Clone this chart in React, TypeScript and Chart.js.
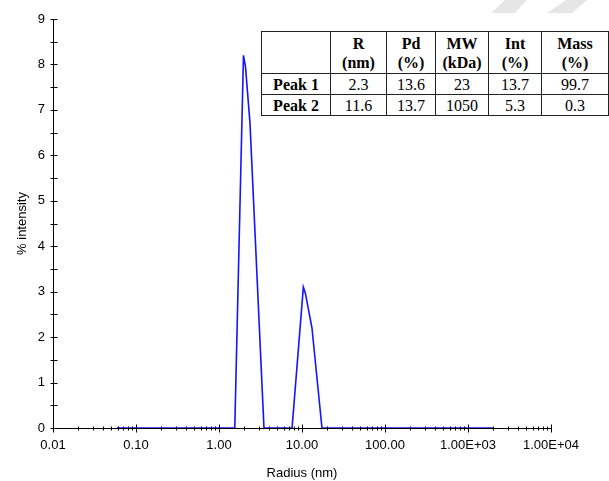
import React, { useEffect, useRef } from "react";
import { Chart, registerables } from "chart.js";

Chart.register(...registerables);

// ---- data ----
const RADIUS_NM = [0.0585, 1.549, 1.972, 2.085, 2.36, 3.483, 7.59, 10.38, 11.03, 13.19, 17.41, 2018];
const INTENSITY = [0, 0, 8.2, 7.95, 6.72, 0, 0, 3.1, 2.95, 2.2, 0, 0];

const X_MAJOR = [0.01, 0.1, 1, 10, 100, 1000, 10000];
const X_LABELS = ["0.01", "0.10", "1.00", "10.00", "100.00", "1.00E+03", "1.00E+04"];
const Y_MIN = 0;
const Y_MAX = 9;
const Y_STEP = 0.5;

const X_TITLE = "Radius (nm)";
const Y_TITLE = "% intensity";

const TABLE_HEAD_TOP = ["", "R", "Pd", "MW", "Int", "Mass"];
const TABLE_HEAD_BOTTOM = ["", "(nm)", "(%)", "(kDa)", "(%)", "(%)"];
const PEAK_NAMES = ["Peak 1", "Peak 2"];
const PEAK_R = ["2.3", "11.6"];
const PEAK_PD = ["13.6", "13.7"];
const PEAK_MW = ["23", "1050"];
const PEAK_INT = ["13.7", "5.3"];
const PEAK_MASS = ["99.7", "0.3"];

const COL_WIDTHS = [69, 56, 49, 53, 53, 67];

const crossTicks = {
  id: "crossTicks",
  afterDatasetsDraw(chart: any) {
    const { ctx, scales, chartArea } = chart;
    const x = scales.x;
    const y = scales.y;
    ctx.save();
    ctx.strokeStyle = "#000";
    ctx.lineWidth = 1;
    const ay = Math.round(chartArea.bottom) + 0.5;
    for (const t of x.ticks) {
      const px = Math.round(x.getPixelForValue(t.value)) + 0.5;
      const major = X_MAJOR.some((m) => Math.abs(m - t.value) / m < 1e-9);
      const len = major ? 4 : 2;
      ctx.beginPath();
      ctx.moveTo(px, ay - len);
      ctx.lineTo(px, ay + len);
      ctx.stroke();
    }
    const ax = Math.round(chartArea.left) + 0.5;
    for (const t of y.ticks) {
      const py = Math.round(y.getPixelForValue(t.value)) + 0.5;
      ctx.beginPath();
      ctx.moveTo(ax - 3, py);
      ctx.lineTo(ax + 4, py);
      ctx.stroke();
    }
    ctx.restore();
  },
};

function buildXTicks() {
  const vals: number[] = [];
  for (let i = 0; i < X_MAJOR.length - 1; i++) {
    for (let k = 1; k <= 9; k++) vals.push(X_MAJOR[i] * k);
  }
  vals.push(X_MAJOR[X_MAJOR.length - 1]);
  return vals;
}

const cellBase: React.CSSProperties = {
  border: "1px solid #222",
  padding: 0,
  textAlign: "center",
  verticalAlign: "middle",
};

export default function App() {
  const canvasRef = useRef<HTMLCanvasElement | null>(null);

  useEffect(() => {
    const canvas = canvasRef.current;
    if (!canvas) return;
    const points = RADIUS_NM.map((r, i) => ({ x: r, y: INTENSITY[i] }));
    const font = { family: "'Liberation Sans', Arial, sans-serif", size: 13 };
    const chart = new Chart(canvas, {
      type: "line",
      data: {
        datasets: [
          {
            data: points,
            borderColor: "#1414ff",
            borderWidth: 1.6,
            pointRadius: 0,
            tension: 0,
            fill: false,
          },
        ],
      },
      options: {
        animation: false,
        responsive: false,
        devicePixelRatio: 1,
        layout: { padding: { left: 0, right: 58, top: 19, bottom: 0 } },
        plugins: { legend: { display: false }, tooltip: { enabled: false } },
        scales: {
          x: {
            type: "logarithmic",
            min: X_MAJOR[0],
            max: X_MAJOR[X_MAJOR.length - 1],
            grid: { display: false, drawTicks: false },
            border: { display: true, color: "#000", width: 1 },
            afterBuildTicks: (scale: any) => {
              scale.ticks = buildXTicks().map((v) => ({ value: v }));
            },
            afterFit: (scale: any) => {
              scale.height = 53;
            },
            ticks: {
              autoSkip: false,
              maxRotation: 0,
              minRotation: 0,
              padding: 10,
              color: "#000",
              font,
              callback: (value: any) => {
                const v = Number(value);
                const i = X_MAJOR.findIndex((m) => Math.abs(m - v) / m < 1e-9);
                return i >= 0 ? X_LABELS[i] : "";
              },
            },
            title: {
              display: true,
              text: X_TITLE,
              color: "#000",
              font,
              padding: { top: 0, bottom: 0 },
            },
          },
          y: {
            type: "linear",
            min: Y_MIN,
            max: Y_MAX,
            grid: { display: false, drawTicks: false },
            border: { display: true, color: "#000", width: 1 },
            afterFit: (scale: any) => {
              scale.width = 53;
            },
            ticks: {
              stepSize: Y_STEP,
              autoSkip: false,
              padding: 8,
              color: "#000",
              font,
              callback: (value: any) => (Number.isInteger(Number(value)) ? String(value) : ""),
            },
            title: {
              display: true,
              text: Y_TITLE,
              color: "#000",
              font,
              padding: { top: 15, bottom: 0 },
            },
          },
        },
      },
      plugins: [crossTicks],
    } as any);
    return () => chart.destroy();
  }, []);

  const rows = PEAK_NAMES.map((name, i) => [name, PEAK_R[i], PEAK_PD[i], PEAK_MW[i], PEAK_INT[i], PEAK_MASS[i]]);

  return (
    <div style={{ position: "absolute", left: 0, top: 0, width: 609, height: 481, background: "#fff", overflow: "hidden" }}>
      <canvas ref={canvasRef} width={609} height={481} style={{ position: "absolute", left: 0, top: 0, width: 609, height: 481 }} />
      <div style={{ position: "absolute", left: 0, top: 0, width: 609, height: 14, pointerEvents: "none" }}>
        <div style={{ position: "absolute", left: 0, top: 0, width: 609, height: 14, background: "#e6e6e6", clipPath: "polygon(505px 0px, 527px 0px, 515px 13px, 491px 13px)" }} />
        <div style={{ position: "absolute", left: 0, top: 0, width: 609, height: 14, background: "#e6e6e6", clipPath: "polygon(566px 0px, 587px 0px, 572px 13px, 547px 13px)" }} />
      </div>
      <table
        style={{
          position: "absolute",
          left: 261,
          top: 31,
          borderCollapse: "collapse",
          tableLayout: "fixed",
          width: COL_WIDTHS.reduce((a, b) => a + b, 0),
          background: "#fff",
          fontFamily: "'Liberation Serif', 'Times New Roman', serif",
          fontSize: 16,
          color: "#000",
        }}
      >
        <colgroup>
          {COL_WIDTHS.map((w, i) => (
            <col key={i} style={{ width: w }} />
          ))}
        </colgroup>
        <tbody>
          <tr style={{ height: 42 }}>
            {TABLE_HEAD_TOP.map((h, i) => (
              <td key={i} style={{ ...cellBase, fontWeight: "bold", lineHeight: "19px" }}>
                {h}
                {TABLE_HEAD_BOTTOM[i] ? <br /> : null}
                {TABLE_HEAD_BOTTOM[i]}
              </td>
            ))}
          </tr>
          {rows.map((r, ri) => (
            <tr key={ri} style={{ height: 21 }}>
              {r.map((c, ci) => (
                <td key={ci} style={{ ...cellBase, fontWeight: ci === 0 ? "bold" : "normal", lineHeight: "19px" }}>
                  {c}
                </td>
              ))}
            </tr>
          ))}
        </tbody>
      </table>
    </div>
  );
}
